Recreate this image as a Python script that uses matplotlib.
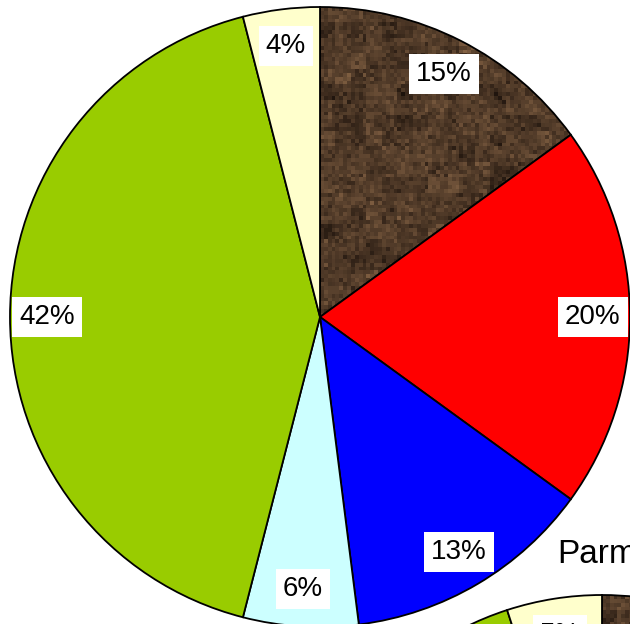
import matplotlib
matplotlib.use("Agg")
import matplotlib.pyplot as plt
import numpy as np

plt.rcParams['font.family'] = ['Liberation Sans', 'DejaVu Sans']

# slices, clockwise from 12 o'clock
labels = ['Brown', 'Red', 'Blue', 'Cyan', 'Green', 'Cream']
values1 = [15, 20, 13, 6, 42, 4]
values2 = [30, 20, 15, 10, 20, 5]   # only the top of this one shows
colors = ['none', '#ff0000', '#0000ff', '#ccffff', '#99cc00', '#ffffcc']
title2 = 'Parm'

W, H = 630, 624
fig = plt.figure(figsize=(W / 100, H / 100), dpi=100)

# brown "marble" texture, just a fill pattern
rng = np.random.default_rng(3)
coarse = rng.normal(0, 1, (40, 40))
coarse = np.kron(coarse, np.ones((4, 4)))
fine = rng.normal(0, 1, (160, 160))
n = 0.45 * coarse + 0.55 * fine
base = np.array([80, 58, 40]) / 255.0
tex = base[None, None, :] + n[:, :, None] * np.array([22, 17, 12])[None, None, :] / 255.0
tex = np.clip(tex, 0, 1)


def draw_pie(rect, vals, show=None, title=None):
    ax = fig.add_axes(rect)
    lab = [f'{v}%' if (show is None or i in show) else '' for i, v in enumerate(vals)]
    wedges, texts = ax.pie(vals, colors=colors, startangle=90, counterclock=False,
                           radius=1, labels=lab, labeldistance=0.88,
                           wedgeprops=dict(edgecolor='black', linewidth=1.3),
                           textprops=dict(fontsize=20, ha='center', va='center'))
    for t in texts:
        if t.get_text():
            t.set_bbox(dict(facecolor='white', edgecolor='none', pad=5))
        t.set_zorder(5)
    im = ax.imshow(tex, extent=(-1, 1, -1, 1), zorder=0, interpolation='nearest')
    im.set_clip_path(wedges[0])
    ax.set_xlim(-1, 1)
    ax.set_ylim(-1, 1)
    ax.set_aspect('equal')
    ax.axis('off')
    if title:
        ax.set_title(title, fontsize=24, pad=23, x=0.492)
    return ax


# first pie: center (320, 317), radius 310 px
draw_pie([10 / W, (H - 627) / H, 620 / W, 620 / H], values1)
# second pie, mostly off the canvas: center (602, 902), radius 307 px
draw_pie([295 / W, (H - 1209) / H, 614 / W, 614 / H], values2, show=[5], title=title2)

fig.savefig('out.png', dpi=100)
